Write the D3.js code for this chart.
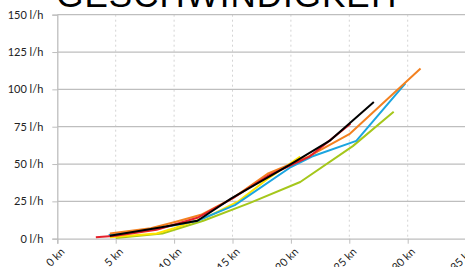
<!DOCTYPE html>
<html><head><meta charset="utf-8">
<script src="https://cdn.jsdelivr.net/npm/d3@7"></script>
<style>body{margin:0;background:#fff;overflow:hidden}svg{display:block}</style>
</head><body>
<script>
const title = "GESCHWINDIGKEIT";
const xTicks = [0,5,10,15,20,25,30,35];
const yTicks = [0,25,50,75,100,125,150];
const lime   = [[5,0.5],[9,3.5],[12.5,12],[16.5,24],[20.8,38],[25.3,62],[28.8,85]];
const yellow = [[4.5,1],[8.5,3.5],[10,7],[12.8,14.5],[15.5,25],[18,40],[20.8,55]];
const blue   = [[4.4,2.5],[8,6],[12,12],[15.2,22.5],[20,48],[21.8,55],[25.6,65.5],[29.8,104]];
const orange = [[4.5,3.5],[8,7],[10,11],[12.3,16],[15,27],[18,43.5],[21.5,55],[25,70],[26.6,81.5],[31.1,114]];
const red    = [[3.3,1],[5,2],[8.5,6],[12,14],[15,27],[18,42],[21.6,55],[23.2,65],[25.1,77]];
const black  = [[4.5,2],[8.8,7.5],[12,12],[14.9,27],[20,50],[23.3,65.5],[27.1,91.5]];
const series = [
  {d:lime,c:"#a5c71b"},{d:yellow,c:"#ffe500"},{d:blue,c:"#1ba5e0"},
  {d:orange,c:"#f38120"},{d:red,c:"#e5202a"},{d:black,c:"#000000"}];

const W=465,H=267;
const svg=d3.select("body").append("svg").attr("width",W).attr("height",H);
const x=d3.scaleLinear().domain([0,35]).range([57.3,466.1]);
const y=d3.scaleLinear().domain([0,150]).range([238.7,14.7]);

svg.append("text").attr("x",230).attr("y",7).attr("text-anchor","middle")
  .attr("font-family","Liberation Sans, Arial").attr("font-size",35).attr("letter-spacing",1).attr("fill","#000").text(title);

// vertical dotted grid
svg.append("g").selectAll("line").data(xTicks.filter(d=>d>0)).join("line")
  .attr("x1",d=>x(d)).attr("x2",d=>x(d)).attr("y1",y(150)).attr("y2",y(0))
  .attr("stroke","#d4d4d4").attr("stroke-width",1).attr("stroke-dasharray","2,3");
// horizontal grid
svg.append("g").selectAll("line").data(yTicks.filter(d=>d>0)).join("line")
  .attr("x1",x(0)).attr("x2",W).attr("y1",d=>y(d)).attr("y2",d=>y(d))
  .attr("stroke","#bebebe").attr("stroke-width",1.3);

// y axis
const ya=svg.append("g").attr("transform",`translate(${x(0)},0)`)
  .call(d3.axisLeft(y).tickValues(yTicks).tickSize(5).tickPadding(9).tickFormat(d=>d+" l/h"));
ya.select(".domain").attr("stroke","#bebebe").attr("stroke-width",1.3);
ya.selectAll(".tick line").attr("stroke","#bebebe");
ya.selectAll("text").attr("font-family","Lato, Open Sans, sans-serif").attr("font-size",11).attr("fill","#222");

// x axis
const xa=svg.append("g").attr("transform",`translate(0,${y(0)})`)
  .call(d3.axisBottom(x).tickValues(xTicks).tickSize(5).tickFormat(d=>d+" kn"));
xa.select(".domain").attr("stroke","#bebebe").attr("stroke-width",1.3);
xa.selectAll(".tick line").attr("stroke","#bebebe");
xa.selectAll("text").attr("font-family","Lato, Open Sans, sans-serif").attr("font-size",11).attr("fill","#222")
  .attr("text-anchor","end").attr("dy",0).attr("transform","translate(2,8) rotate(-45)");

const line=d3.line().x(d=>x(d[0])).y(d=>y(d[1]));
svg.append("g").selectAll("path").data(series).join("path")
  .attr("d",s=>line(s.d)).attr("fill","none").attr("stroke",s=>s.c)
  .attr("stroke-width",2).attr("stroke-linejoin","round");
</script>
</body></html>
